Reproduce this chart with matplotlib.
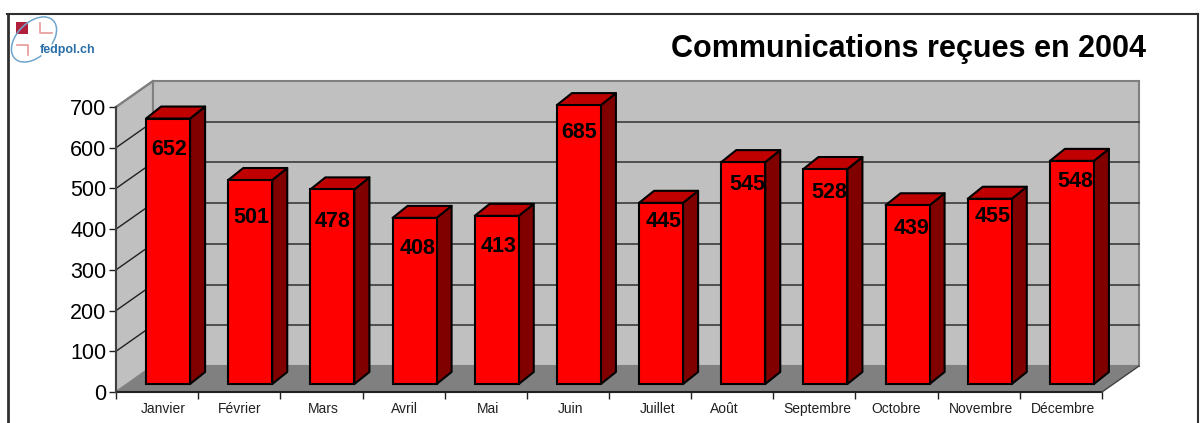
import matplotlib
matplotlib.use('Agg')
import matplotlib.pyplot as plt
from matplotlib.patches import Polygon, Rectangle, Arc

months = ['Janvier', 'Février', 'Mars', 'Avril', 'Mai', 'Juin', 'Juillet',
          'Août', 'Septembre', 'Octobre', 'Novembre', 'Décembre']
values = [652, 501, 478, 408, 413, 685, 445, 545, 528, 439, 455, 548]
yticks = [0, 100, 200, 300, 400, 500, 600, 700]

# small manual shifts (pixels) because the original labels are not centred
month_nudge = [6, 0, 2, 1, 2, 3, 8, -8, 3, 0, 2, 2]
label_dx = [1, 1, 0, 3, 2, 0, 3, 4, 4, 4, 3, 3]
label_below = [31, 37, 32, 31, 31, 27, 19, 22, 23, 23, 18, 21]

W, H = 1200, 423
plt.rcParams['font.family'] = ['Liberation Sans', 'DejaVu Sans']

fig = plt.figure(figsize=(W / 100, H / 100), dpi=100)
ax = fig.add_axes([116 / W, (H - 392) / H, 986 / W, 285 / H])
ax.set_xlim(0, 12)
ax.set_ylim(0, 700)
ax.patch.set_visible(False)

# one pixel in data units
ux = 12 / 986.0
uy = 700 / 285.0
DX, DY = 37, 26

# walls and floor
ax.add_patch(Polygon([(0, 0), (12, 0), (12 + DX * ux, DY * uy), (DX * ux, DY * uy)],
                     fc='#808080', ec='none', zorder=1, clip_on=False))
ax.add_patch(Polygon([(0, 0), (0, 700), (DX * ux, 700 + DY * uy), (DX * ux, DY * uy)],
                     fc='#c0c0c0', ec='#808080', lw=1.5, zorder=1, clip_on=False))
ax.add_patch(Rectangle((DX * ux, DY * uy), 12, 700, fc='#c0c0c0', ec='#808080',
                       lw=1.5, zorder=1, clip_on=False))
ax.plot([0, 12], [0, 0], color='#202020', lw=1.5, zorder=2, clip_on=False)
ax.plot([12, 12 + DX * ux], [0, DY * uy], color='#404040', lw=1, zorder=2, clip_on=False)

for t in yticks[1:-1]:
    ax.plot([0, DX * ux], [t, t + DY * uy], color='#202020', lw=1, zorder=2, clip_on=False)
    ax.plot([DX * ux, 12 + DX * ux], [t + DY * uy, t + DY * uy], color='#303030', lw=1.1,
            zorder=2, clip_on=False)
ax.plot([0, DX * ux], [700, 700 + DY * uy], color='#808080', lw=1.5, zorder=2, clip_on=False)

# bars
BW = 44 * ux
BX, BY = 11, 8
SX, SY = 15, 12
for i, v in enumerate(values):
    x0 = i + 0.5 - BW / 2 + BX * ux
    x1 = x0 + BW
    y0 = BY * uy
    y1 = y0 + v
    ax.add_patch(Polygon([(x1, y0), (x1 + SX * ux, y0 + SY * uy), (x1 + SX * ux, y1 + SY * uy), (x1, y1)],
                         fc='#800000', ec='black', lw=1.5, zorder=3, joinstyle='round', clip_on=False))
    ax.add_patch(Polygon([(x0, y1), (x1, y1), (x1 + SX * ux, y1 + SY * uy), (x0 + SX * ux, y1 + SY * uy)],
                         fc='#c00000', ec='black', lw=1.5, zorder=3, joinstyle='round', clip_on=False))
    ax.bar(i + 0.5 + BX * ux, v, width=BW, bottom=y0, color='#ff0000', edgecolor='black',
           linewidth=1.5, zorder=4, clip_on=False)
    ax.text(i + 0.5 + (BX + label_dx[i]) * ux, y1 - label_below[i] * uy, str(v), ha='center',
            va='center', fontsize=15.5, fontweight='bold', color='black', zorder=5, clip_on=False)

# axes look
for s in ax.spines.values():
    s.set_visible(False)
ax.plot([0, 0], [0, 700], color='#404040', lw=1.5, zorder=2, clip_on=False)
ax.set_yticks(yticks)
ax.tick_params(axis='y', labelsize=15.5, length=5, width=1, pad=2, color='#202020', labelcolor='black')
ax.set_xticks(range(13))
ax.set_xticklabels([])
ax.tick_params(axis='x', length=5, width=1, color='#202020', direction='out')
for i, m in enumerate(months):
    ax.text(i + 0.5 + month_nudge[i] * ux, -16.5 * uy, m, ha='center', va='center', fontsize=10,
            color='#202020', clip_on=False)

# frame round the figure
fig.add_artist(plt.Line2D([7.5 / W, 7.5 / W], [0, (H - 14) / H], color='#303030', lw=2))
fig.add_artist(plt.Line2D([7 / W, 1198 / W], [(H - 14) / H, (H - 14) / H], color='#303030', lw=1.5))
fig.add_artist(plt.Line2D([1198 / W, 1198 / W], [0, (H - 14) / H], color='#303030', lw=1.5))

fig.text(1146 / W, (H - 57.5) / H, 'Communications reçues en 2004', ha='right', va='baseline',
         fontsize=22, fontweight='bold', color='black')

# fedpol logo
logo = fig.add_axes([0, (H - 70) / H, 100 / W, 70 / H])
logo.set_xlim(0, 100)
logo.set_ylim(70, 0)
logo.axis('off')
logo.add_patch(Rectangle((16, 22.5), 12, 12, fc='#b0203c', ec='none'))
logo.plot([40, 40, 51.5], [23, 33.5, 33.5], color='#e89a9a', lw=1.2)
logo.plot([17, 28, 28], [45, 45, 55.5], color='#e89a9a', lw=1.2)
logo.add_patch(Arc((34, 39.5), 54, 34, angle=-45, theta1=110, theta2=420, color='#6fa5cc', lw=1.1))
logo.text(39.5, 50, 'fedpol.ch', fontsize=9, fontweight='bold', color='#2a6fa8', va='center', ha='left')

plt.savefig('out.png', dpi=100)
